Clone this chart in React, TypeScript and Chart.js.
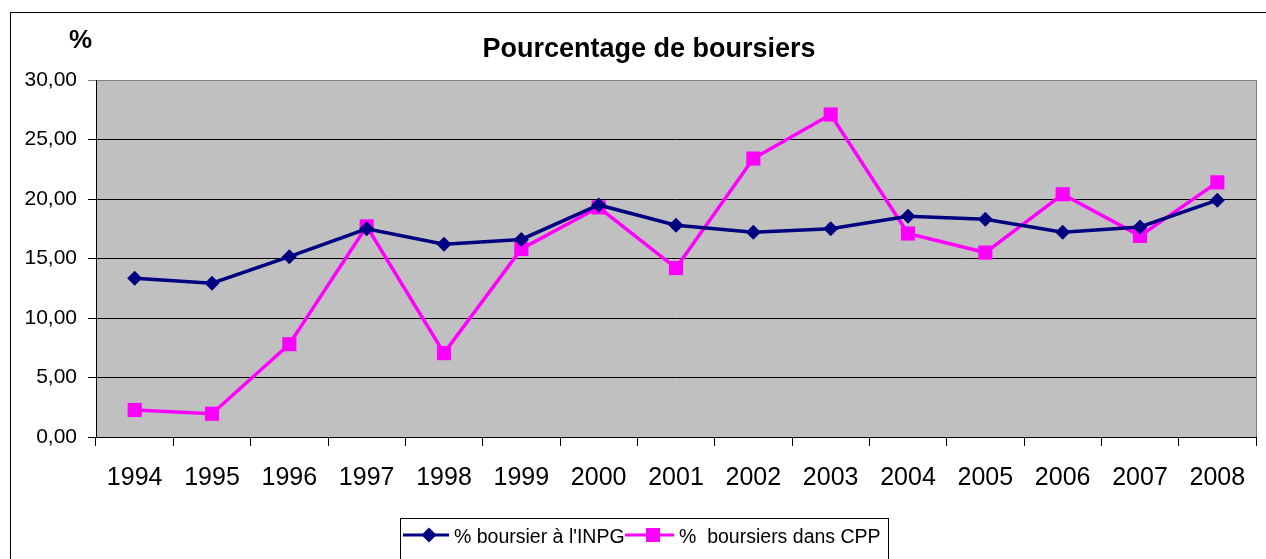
import React, { useEffect, useRef } from "react";
import { Chart, registerables } from "chart.js";

Chart.register(...registerables);

const years = ["1994","1995","1996","1997","1998","1999","2000","2001","2002","2003","2004","2005","2006","2007","2008"];
const inpg = [13.34, 12.92, 15.15, 17.5, 16.2, 16.6, 19.5, 17.8, 17.2, 17.5, 18.55, 18.3, 17.2, 17.65, 19.9];
const cpp = [2.27, 1.95, 7.8, 17.7, 7.05, 15.8, 19.3, 14.2, 23.4, 27.1, 17.1, 15.5, 20.4, 16.9, 21.4];
const yTicks = [0, 5, 10, 15, 20, 25, 30];

const titleText = "Pourcentage de boursiers";
const unitText = "%";
const labelINPG = "% boursier à l'INPG";
const labelCPP = "%  boursiers dans CPP";

const NAVY = "#000080";
const MAGENTA = "#FF00FF";
const FONT = "'Liberation Sans', Arial, sans-serif";

const decor = {
  id: "decor",
  beforeDraw(chart: any) {
    const { ctx, chartArea: a } = chart;
    ctx.save();
    ctx.fillStyle = "#C0C0C0";
    ctx.fillRect(a.left, a.top, a.right - a.left, a.bottom - a.top);
    ctx.strokeStyle = "#000";
    ctx.lineWidth = 1;
    ctx.strokeRect(10.5, 12.5, 1400, 700);
    ctx.restore();
  },
  afterDraw(chart: any) {
    const { ctx, chartArea: a } = chart;
    ctx.save();
    ctx.strokeStyle = "#808080";
    ctx.lineWidth = 1;
    ctx.beginPath();
    ctx.moveTo(a.right + 0.5, a.top);
    ctx.lineTo(a.right + 0.5, a.bottom);
    ctx.stroke();
    ctx.fillStyle = "#000";
    ctx.textBaseline = "alphabetic";
    ctx.textAlign = "center";
    ctx.font = "bold 27px " + FONT;
    ctx.fillText(titleText, 649, 57);
    ctx.textAlign = "left";
    ctx.font = "bold 26px " + FONT;
    ctx.fillText(unitText, 69, 48);
    ctx.strokeStyle = "#000";
    ctx.strokeRect(400.5, 518.5, 488, 80);
    const y = 535;
    ctx.lineWidth = 3;
    ctx.strokeStyle = NAVY;
    ctx.beginPath();
    ctx.moveTo(403, y);
    ctx.lineTo(449, y);
    ctx.stroke();
    ctx.fillStyle = NAVY;
    ctx.beginPath();
    ctx.moveTo(429, y - 7.5);
    ctx.lineTo(436.5, y);
    ctx.lineTo(429, y + 7.5);
    ctx.lineTo(421.5, y);
    ctx.closePath();
    ctx.fill();
    ctx.strokeStyle = MAGENTA;
    ctx.beginPath();
    ctx.moveTo(625, y);
    ctx.lineTo(674, y);
    ctx.stroke();
    ctx.fillStyle = MAGENTA;
    ctx.fillRect(646, y - 7, 14, 14);
    ctx.fillStyle = "#000";
    ctx.font = "19.5px " + FONT;
    ctx.fillText(labelINPG, 454, 543);
    ctx.fillText(labelCPP, 679, 543);
    ctx.restore();
  },
};

export default function App() {
  const ref = useRef<HTMLCanvasElement>(null);
  useEffect(() => {
    if (!ref.current) return;
    const chart = new Chart(ref.current, {
      type: "line",
      data: {
        labels: years,
        datasets: [
          {
            label: labelINPG,
            data: inpg,
            borderColor: NAVY,
            backgroundColor: NAVY,
            borderWidth: 3.5,
            pointStyle: "rectRot",
            pointRadius: 7.5,
            pointHoverRadius: 7.5,
            pointBorderWidth: 0,
            tension: 0,
          },
          {
            label: labelCPP,
            data: cpp,
            borderColor: MAGENTA,
            backgroundColor: MAGENTA,
            borderWidth: 3.5,
            pointStyle: "rect",
            pointRadius: 10,
            pointHoverRadius: 10,
            pointBorderWidth: 0,
            tension: 0,
          },
        ],
      },
      options: {
        responsive: false,
        animation: false,
        devicePixelRatio: 1,
        layout: { padding: { left: 0, top: 80, right: 6, bottom: 0 } },
        plugins: {
          legend: { display: false },
          title: { display: false },
          tooltip: { enabled: false },
        },
        scales: {
          x: {
            type: "category",
            offset: true,
            grid: {
              offset: true,
              drawOnChartArea: false,
              drawTicks: true,
              tickLength: 9,
              color: "#000",
            },
            border: { color: "#000", width: 1 },
            ticks: {
              color: "#000",
              font: { family: FONT, size: 25 },
              padding: 17,
              maxRotation: 0,
              autoSkip: false,
            },
            afterFit: (s: any) => {
              s.height = 122;
            },
          },
          y: {
            min: 0,
            max: 30,
            afterBuildTicks: (s: any) => {
              s.ticks = yTicks.map((v) => ({ value: v }));
            },
            grid: {
              color: (c: any) => (c.tick && c.tick.value === 30 ? "#808080" : "#000"),
              tickLength: 8,
              drawTicks: true,
            },
            border: { color: "#000", width: 1 },
            ticks: {
              color: "#000",
              font: { family: FONT, size: 21 },
              padding: 11,
              callback: (v: any) => Number(v).toFixed(2).replace(".", ","),
            },
            afterFit: (s: any) => {
              s.width = 96;
            },
          },
        },
      },
      plugins: [decor],
    });
    return () => chart.destroy();
  }, []);
  return (
    <div style={{ position: "absolute", left: 0, top: 0, width: 1266, height: 559 }}>
      <canvas ref={ref} width={1266} height={559} />
    </div>
  );
}
